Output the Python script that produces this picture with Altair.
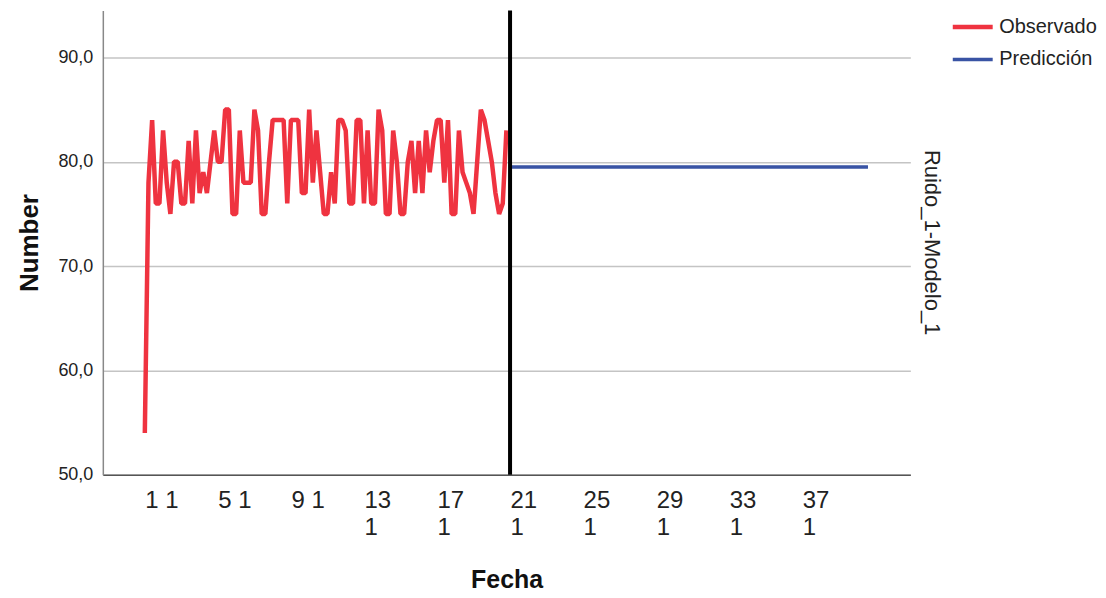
import json
import altair as alt
import pandas as pd

# ---- data ----
observado = [54, 78, 84, 76, 76, 83, 78, 75, 80, 80,
             76, 76, 82, 76, 83, 77, 79, 77, 80, 83,
             80, 80, 85, 85, 75, 75, 83, 78, 78, 78,
             85, 83, 75, 75, 80, 84, 84, 84, 84, 76,
             84, 84, 84, 77, 77, 85, 78, 83, 79, 75,
             75, 79, 76, 84, 84, 83, 76, 76, 84, 84,
             76, 83, 76, 76, 85, 83, 75, 75, 83, 80,
             75, 75, 80, 82, 77, 82, 77, 83, 79, 82,
             84, 84, 78, 84, 75, 75, 83, 79, 78, 77,
             75, 80, 85, 84, 82, 80, 77, 75, 76, 83]
prediccion_value = 79.5
n_prediccion = 99
tick_positions = [0, 20, 40, 60, 80, 100, 120, 140, 160, 180]
tick_labels = ["1 1", "5 1", "9 1", "13|1", "17|1", "21|1", "25|1", "29|1", "33|1", "37|1"]
y_ticks = [50, 60, 70, 80, 90]
series_names = ["Observado", "Predicción"]
series_colors = ["#ef3340", "#3953a4"]
panel_label = "Ruido_1-Modelo_1"

rows = []
for i, v in enumerate(observado):
    rows.append({"t": i, "value": v, "serie": "Observado"})
start = len(observado)
for k in range(n_prediccion):
    rows.append({"t": start + k, "value": prediccion_value, "serie": "Predicción"})
df = pd.DataFrame(rows)
rule_df = pd.DataFrame({"t": [start]})
panel_df = pd.DataFrame({"label": [panel_label]})

label_expr = "split(%s[indexof(%s, datum.value)], '|')" % (
    json.dumps(tick_labels), json.dumps(tick_positions))

font = "Liberation Sans"
W, H = 809, 465

x_scale = alt.Scale(domain=[-11.5, 209.6], nice=False, zero=False)
y_scale = alt.Scale(domain=[50, 94.5], nice=False, zero=False)

x_axis = alt.Axis(values=tick_positions, labelExpr=label_expr, grid=False, ticks=False,
                  labelAlign="left", labelFontSize=24, labelFont=font,
                  labelColor="#222222", labelLineHeight=27, labelPadding=14,
                  labelBaseline="top", labelOverlap=False,
                  domainColor="#555555", domainWidth=1.5,
                  title="Fecha", titleFont=font, titleFontSize=25, titleFontWeight="bold",
                  titleColor="#111111", titlePadding=28)
y_axis = alt.Axis(values=y_ticks, labelExpr="replace(format(datum.value, '.1f'), '.', ',')",
                  grid=True, gridColor="#c4c4c4", gridWidth=1.5, ticks=False,
                  labelFontSize=18, labelFont=font, labelColor="#222222", labelPadding=10,
                  domainColor="#888888", domainWidth=1.5,
                  title="Number", titleFont=font, titleFontSize=26, titleFontWeight="bold",
                  titleColor="#111111", titlePadding=15)

lines = alt.Chart(df).mark_line(strokeJoin="bevel", clip=True).encode(
    x=alt.X("t:Q", scale=x_scale, axis=x_axis),
    y=alt.Y("value:Q", scale=y_scale, axis=y_axis),
    color=alt.Color("serie:N", scale=alt.Scale(domain=series_names, range=series_colors),
                    legend=alt.Legend(title=None, orient="none", legendX=849, legendY=-6,
                                      symbolType="stroke", symbolSize=1600,
                                      symbolStrokeWidth=5, labelFontSize=20, labelFont=font,
                                      labelColor="#222222", rowPadding=-18, labelOffset=4)),
    strokeWidth=alt.StrokeWidth("serie:N", scale=alt.Scale(domain=series_names, range=[4.5, 3.5]),
                                legend=None),
)

rule = alt.Chart(rule_df).mark_rule(color="#000000", strokeWidth=4).encode(
    x=alt.X("t:Q", scale=x_scale),
)

panel = alt.Chart(panel_df).mark_text(angle=90, align="center", baseline="middle",
                                      fontSize=22, font=font, color="#222222").encode(
    text="label:N",
    x=alt.value(W + 22),
    y=alt.value(H / 2),
)

chart = alt.layer(lines, rule, panel).properties(
    width=W, height=H,
    autosize=alt.AutoSizeParams(type="none"),
    padding={"left": 95, "top": 2, "right": 188, "bottom": 118},
).configure_view(stroke=None)

chart.save("out.html", embed_options={"renderer": "svg", "actions": False})
